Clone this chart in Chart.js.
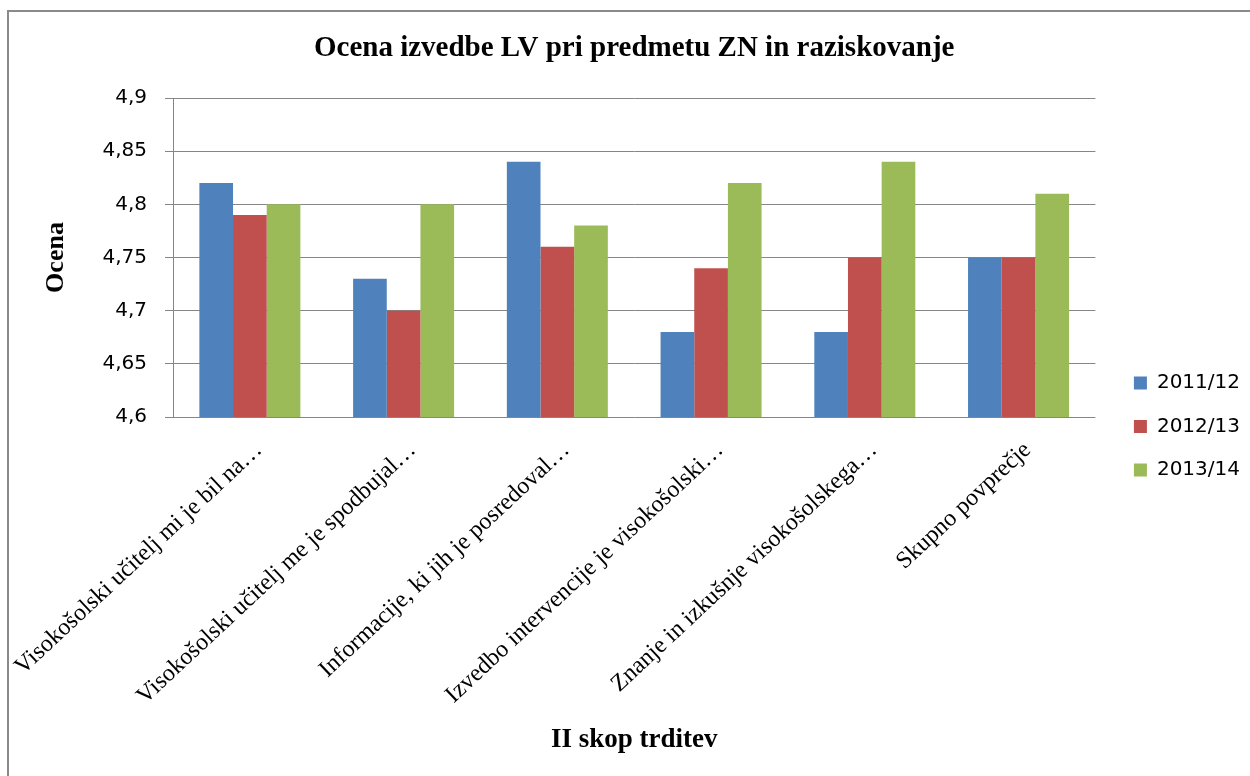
<!DOCTYPE html>
<html>
<head>
<meta charset="utf-8">
<script src="https://cdn.jsdelivr.net/npm/chart.js@4.4.1/dist/chart.umd.min.js"></script>
<style>
  html, body { margin: 0; padding: 0; background: #fff; overflow: hidden; }
  #frame { position: absolute; left: 7px; top: 10px; width: 1300px; height: 800px; border: 2px solid #8a8a8a; }
  #chart { position: absolute; left: 0; top: 0; }
</style>
</head>
<body>
<div id="frame"></div>
<canvas id="chart" width="1250" height="776"></canvas>
<script>
const categories = [
  'Visokošolski učitelj mi je bil na…',
  'Visokošolski učitelj me je spodbujal…',
  'Informacije, ki jih je posredoval…',
  'Izvedbo intervencije je visokošolski…',
  'Znanje in izkušnje visokošolskega…',
  'Skupno povprečje'
];
const seriesNames = ['2011/12', '2012/13', '2013/14'];
const values2011 = [4.82, 4.73, 4.84, 4.68, 4.68, 4.75];
const values2012 = [4.79, 4.70, 4.76, 4.74, 4.75, 4.75];
const values2013 = [4.80, 4.80, 4.78, 4.82, 4.84, 4.81];
const seriesColors = ['#4F81BD', '#C0504D', '#9BBB59'];
const yMin = 4.6;
const yMax = 4.9;
const yStep = 0.05;

const gridColor = '#868686';
const serif = "'Liberation Serif', 'Times New Roman', serif";
const sans = "'DejaVu Sans', sans-serif";

Chart.defaults.color = '#000';

const datasets = [values2011, values2012, values2013].map((vals, i) => ({
  label: seriesNames[i],
  data: vals,
  backgroundColor: seriesColors[i],
  borderWidth: 0,
  categoryPercentage: 0.657,
  barPercentage: 1.0
}));

new Chart(document.getElementById('chart'), {
  type: 'bar',
  data: { labels: categories, datasets: datasets },
  options: {
    responsive: false,
    animation: false,
    layout: { padding: { left: 8, right: 0, top: 0, bottom: 0 } },
    plugins: {
      title: {
        display: true,
        fullSize: false,
        text: 'Ocena izvedbe LV pri predmetu ZN in raziskovanje',
        font: { family: serif, weight: 'bold', size: 29 },
        padding: { top: 31.5, bottom: 31.7 }
      },
      legend: {
        position: 'right',
        align: 'start',
        title: { display: true, text: '', font: { size: 12 }, padding: { top: 335, bottom: 0 } },
        labels: {
          boxWidth: 13,
          boxHeight: 13,
          padding: 23.5,
          font: { family: sans, size: 20 }
        }
      },
      tooltip: { enabled: false }
    },
    scales: {
      x: {
        grid: { display: false },
        border: { display: false },
        ticks: {
          autoSkip: false,
          minRotation: 43,
          maxRotation: 43,
          padding: 11,
          labelOffset: 9,
          font: { family: serif, size: 24 }
        },
        title: {
          display: true,
          text: 'II skop trditev',
          font: { family: serif, weight: 'bold', size: 27 },
          padding: { top: 0, bottom: 20 }
        },
        afterFit: (scale) => {
          scale.height = 359;
          scale.paddingLeft = 0;
          scale.paddingRight = 0;
        }
      },
      y: {
        min: yMin,
        max: yMax,
        ticks: {
          stepSize: yStep,
          padding: 18,
          font: { family: sans, size: 20 },
          callback: (v) => (Math.round(v * 100) / 100).toString().replace('.', ',')
        },
        grid: { color: gridColor, tickLength: 8 },
        border: { color: gridColor },
        title: {
          display: true,
          text: 'Ocena',
          font: { family: serif, weight: 'bold', size: 26 },
          padding: { top: 32.4, bottom: 0 }
        },
        afterFit: (scale) => { scale.width = 165; }
      },
      // empty spacer between the plot and the legend
      gap: {
        position: 'right',
        grid: { display: false },
        border: { display: false },
        ticks: { display: false },
        afterFit: (scale) => { scale.width = 15; }
      }
    }
  }
});
</script>
</body>
</html>
